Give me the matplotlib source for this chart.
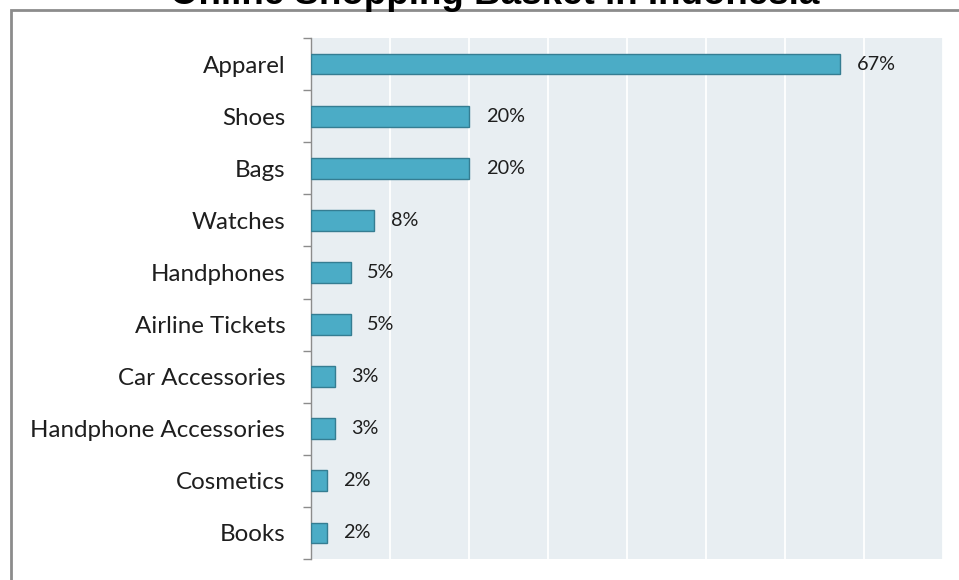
import numpy as np
import matplotlib.pyplot as plt
from matplotlib.patches import Rectangle
from matplotlib.ticker import MultipleLocator

categories = ['Apparel', 'Shoes', 'Bags', 'Watches', 'Handphones', 'Airline Tickets',
              'Car Accessories', 'Handphone Accessories', 'Cosmetics', 'Books']
shares = [67, 20, 20, 8, 5, 5, 3, 3, 2, 2]   # percent of online shoppers

bar_color = '#4BACC6'
bar_edge = '#357D92'
panel_color = '#E8EEF2'
axis_gray = '#8C8C8C'
text_dark = '#1E1E1E'

fig = plt.figure(figsize=(9.59, 5.80), dpi=100)
ax = fig.add_axes([311 / 959, 1 - 559 / 580, (943 - 311) / 959, (559 - 38) / 580])

y = np.arange(len(categories))
ax.barh(y, shares, height=0.4, color=bar_color, edgecolor=bar_edge, linewidth=1, zorder=3)
for yi, v in zip(y, shares):
    ax.annotate(f'{v}%', (v, yi), xytext=(12, 0), textcoords='offset points',
                va='center', ha='left', fontsize=14.3, family='Lato', color=text_dark)

ax.set_xlim(0, 80)
ax.set_ylim(len(categories) - 0.5, -0.5)
ax.set_facecolor(panel_color)
ax.xaxis.set_major_locator(MultipleLocator(10))
ax.grid(axis='x', color='white', linewidth=1.3, zorder=1)
ax.tick_params(axis='x', bottom=False, labelbottom=False)

# category labels centred on bars, tick marks between categories
ax.set_yticks(y)
ax.set_yticklabels(categories, family='Lato', fontsize=17.4, color=text_dark)
ax.set_yticks(np.arange(len(categories) + 1) - 0.5, minor=True)
ax.tick_params(axis='y', which='major', length=0, pad=18.5)
ax.tick_params(axis='y', which='minor', length=6, width=1, color=axis_gray, direction='out')

for side in ['top', 'right', 'bottom']:
    ax.spines[side].set_visible(False)
ax.spines['left'].set_color(axis_gray)
ax.spines['left'].set_linewidth(1)

# outer chart frame
fig.patches.append(Rectangle((11 / 959, -0.1), 1.2, 1.1 - 10 / 580, transform=fig.transFigure,
                             fill=False, edgecolor=axis_gray, linewidth=2, clip_on=False))

fig.text(495 / 959, 1 - 4.5 / 580, 'Online Shopping Basket in Indonesia', ha='center',
         va='baseline', fontsize=26.5, fontweight='bold', family='Liberation Sans', color='black')

fig.savefig('out.png', dpi=100)
